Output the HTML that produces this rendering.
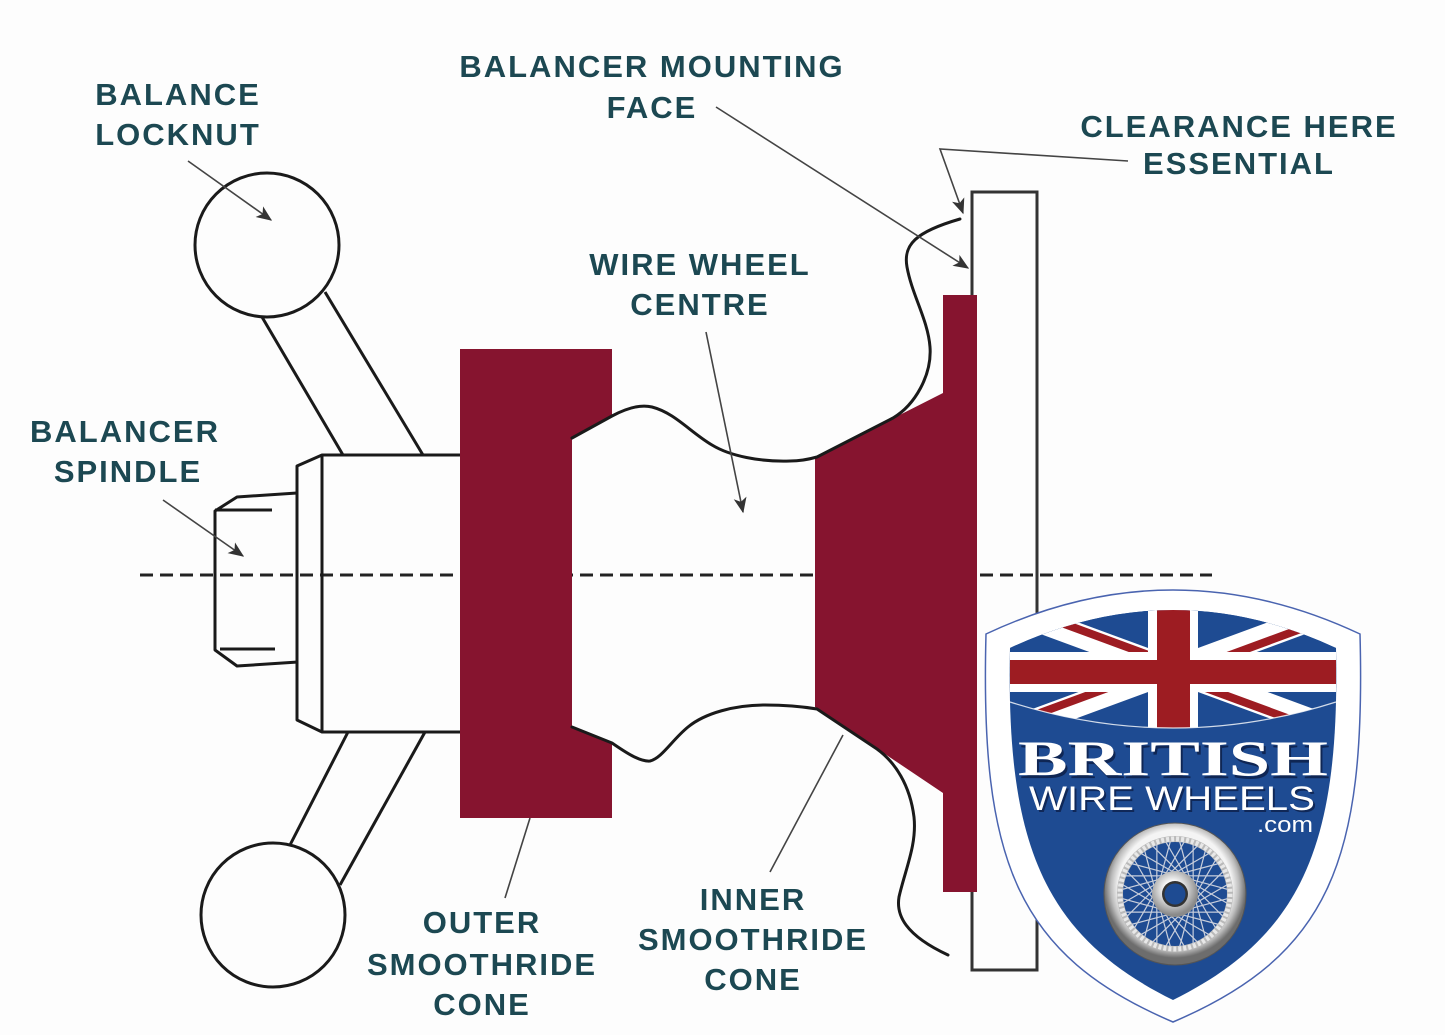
<!DOCTYPE html>
<html><head><meta charset="utf-8"><style>
html,body{margin:0;padding:0;background:#fdfdfd;}
svg{display:block;}
.lbl{font-family:"Liberation Sans",Arial,sans-serif;font-weight:bold;font-size:31px;letter-spacing:2px;fill:#1c4852;}
</style></head><body>
<svg width="1445" height="1035" viewBox="0 0 1445 1035" xmlns="http://www.w3.org/2000/svg">
<defs>
<marker id="ah" viewBox="0 0 12 10" refX="11" refY="5" markerWidth="17" markerHeight="13" markerUnits="userSpaceOnUse" orient="auto">
<path d="M0,0 L12,5 L0,10 L3,5 z" fill="#333"/>
</marker>
<clipPath id="flagclip"><path d="M1010,648 Q1173,572 1336,648 L1336,702 Q1173,754 1010,702 Z"/></clipPath>
<radialGradient id="tire" cx="50%" cy="45%" r="50%">
<stop offset="0.80" stop-color="#f4f4f4"/><stop offset="0.9" stop-color="#bdbdbd"/><stop offset="1" stop-color="#6d6d6d"/>
</radialGradient>
<radialGradient id="hubg" cx="45%" cy="40%" r="55%">
<stop offset="0.3" stop-color="#ffffff"/><stop offset="1" stop-color="#8a8a8a"/>
</radialGradient>
<g id="sp" stroke="#c9cfdc" stroke-width="1.2">
<line x1="21" y1="0" x2="40.6" y2="34.1"/>
<line x1="21" y1="0" x2="40.6" y2="-34.1"/>
</g>
</defs>
<rect width="1445" height="1035" fill="#fdfdfd"/>

<line x1="140" y1="575" x2="1212" y2="575" stroke="#222" stroke-width="3" stroke-dasharray="13 7"/>

<rect x="972" y="192" width="65" height="778" fill="none" stroke="#333" stroke-width="3"/>

<g fill="none" stroke="#1a1a1a" stroke-width="3" stroke-linejoin="round">
<path d="M460,455 L322,455 L297,466 L297,720 L322,732 L460,732"/>
<line x1="322" y1="455" x2="322" y2="732"/>
<path d="M297,493 L237,497 L215,511 L215,650 L237,666 L298,662"/>
<line x1="215" y1="510" x2="272" y2="510"/>
<line x1="220" y1="649" x2="275" y2="649"/>
<line x1="262" y1="317" x2="343" y2="455"/>
<line x1="325" y1="292" x2="423" y2="455"/>
<line x1="290" y1="845" x2="348" y2="732"/>
<line x1="340" y1="885" x2="425" y2="732"/>
<circle cx="267" cy="245" r="72"/>
<circle cx="273" cy="915" r="72"/>
</g>

<path d="M460,349 L612,349 L612,417 L572,438 L572,727 L612,743 L612,818 L460,818 Z" fill="#86142f"/>
<path d="M815,458 L943,393 L943,295 L977,295 L977,892 L943,892 L943,793 L815,707 Z" fill="#86142f"/>

<g fill="none" stroke="#1a1a1a" stroke-width="3" stroke-linejoin="round" stroke-linecap="round">
<path d="M572,438 L612,416 C625,409 640,404 652,407 C675,413 690,432 712,445 C730,456 760,462 790,461 C800,461 810,459 817,457 L893,418 C915,405 932,375 930,347 C928,320 912,295 907,267 C903,245 915,232 960,219"/>
<path d="M572,727 L612,743 C625,752 640,762 650,761 C662,758 672,740 688,727 C705,713 735,705 765,705 C790,705 805,707 817,709 L877,749 C895,762 910,785 914,817 C917,845 905,870 899,897 C896,915 905,935 948,955"/>
</g>

<g fill="none" stroke="#444" stroke-width="1.6">
<line x1="188" y1="161" x2="271" y2="220" marker-end="url(#ah)"/>
<line x1="163" y1="500" x2="243" y2="556" marker-end="url(#ah)"/>
<line x1="706" y1="332" x2="743" y2="512" marker-end="url(#ah)"/>
<line x1="716" y1="107" x2="968" y2="268" marker-end="url(#ah)"/>
<polyline points="1128,161 940,149 963,213" marker-end="url(#ah)"/>
<line x1="530" y1="818" x2="505" y2="898"/>
<line x1="843" y1="735" x2="770" y2="872"/>
</g>

<g class="lbl" text-anchor="middle">
<text x="178" y="105">BALANCE</text>
<text x="178" y="145">LOCKNUT</text>
<text x="125" y="442">BALANCER</text>
<text x="128" y="482">SPINDLE</text>
<text x="652" y="77">BALANCER MOUNTING</text>
<text x="652" y="118">FACE</text>
<text x="1239" y="137">CLEARANCE HERE</text>
<text x="1239" y="174">ESSENTIAL</text>
<text x="700" y="275">WIRE WHEEL</text>
<text x="700" y="315">CENTRE</text>
<text x="482" y="933">OUTER</text>
<text x="482" y="975">SMOOTHRIDE</text>
<text x="482" y="1015">CONE</text>
<text x="753" y="910">INNER</text>
<text x="753" y="950">SMOOTHRIDE</text>
<text x="753" y="990">CONE</text>
</g>

<path d="M986,634 Q1173,546 1360,634 C1366,860 1330,955 1173,1022 C1016,955 980,860 986,634 Z" fill="#ffffff" stroke="#4a64b0" stroke-width="1.5"/>
<path d="M1010,648 Q1173,572 1336,648 C1340,840 1305,935 1173,1000 C1041,935 1006,840 1010,648 Z" fill="#1e4b92"/>
<g clip-path="url(#flagclip)">
<rect x="1000" y="560" width="350" height="200" fill="#1e4b92"/>
<g stroke="#ffffff" stroke-width="24">
<line x1="1010" y1="610" x2="1336" y2="730"/>
<line x1="1010" y1="730" x2="1336" y2="610"/>
</g>
<g stroke="#9d1c22" stroke-width="8">
<line x1="1010" y1="604" x2="1173" y2="664"/>
<line x1="1173" y1="676" x2="1336" y2="736"/>
<line x1="1010" y1="724" x2="1173" y2="664"/>
<line x1="1173" y1="676" x2="1336" y2="616"/>
</g>
<rect x="1000" y="652" width="350" height="40" fill="#ffffff"/>
<rect x="1148" y="560" width="50" height="200" fill="#ffffff"/>
<rect x="1000" y="660" width="350" height="24" fill="#9d1c22"/>
<rect x="1157" y="560" width="33" height="200" fill="#9d1c22"/>
</g>
<path d="M1010,702 Q1173,754 1336,702" fill="none" stroke="#ffffff" stroke-width="1.2" opacity="0.8"/>

<g font-family="'Liberation Serif',serif" font-weight="bold" font-size="50" text-anchor="middle">
<text x="1175" y="778" fill="#0b1a40" opacity="0.75" textLength="310" lengthAdjust="spacingAndGlyphs">BRITISH</text>
<text x="1173" y="775" fill="#ffffff" textLength="310" lengthAdjust="spacingAndGlyphs">BRITISH</text>
</g>
<g font-family="'Liberation Sans',sans-serif" font-size="34" text-anchor="middle">
<text x="1174" y="812" fill="#0b1a40" opacity="0.7" textLength="286" lengthAdjust="spacingAndGlyphs">WIRE WHEELS</text>
<text x="1172" y="810" fill="#ffffff" textLength="286" lengthAdjust="spacingAndGlyphs">WIRE WHEELS</text>
</g>
<text x="1257" y="832" fill="#ffffff" font-family="'Liberation Sans',sans-serif" font-size="22" textLength="56" lengthAdjust="spacingAndGlyphs">.com</text>

<circle cx="1175" cy="894" r="71" fill="url(#tire)"/>
<circle cx="1175" cy="894" r="71" fill="none" stroke="#555" stroke-width="1"/>
<circle cx="1175" cy="894" r="58" fill="#b9b9b9"/>
<circle cx="1175" cy="894" r="55" fill="none" stroke="#e8e8e8" stroke-width="5" stroke-dasharray="3 2"/>
<circle cx="1175" cy="894" r="52" fill="#1e4b92"/>
<g transform="translate(1175,894)">
<use href="#sp"/>
<use href="#sp" transform="rotate(15)"/>
<use href="#sp" transform="rotate(30)"/>
<use href="#sp" transform="rotate(45)"/>
<use href="#sp" transform="rotate(60)"/>
<use href="#sp" transform="rotate(75)"/>
<use href="#sp" transform="rotate(90)"/>
<use href="#sp" transform="rotate(105)"/>
<use href="#sp" transform="rotate(120)"/>
<use href="#sp" transform="rotate(135)"/>
<use href="#sp" transform="rotate(150)"/>
<use href="#sp" transform="rotate(165)"/>
<use href="#sp" transform="rotate(180)"/>
<use href="#sp" transform="rotate(195)"/>
<use href="#sp" transform="rotate(210)"/>
<use href="#sp" transform="rotate(225)"/>
<use href="#sp" transform="rotate(240)"/>
<use href="#sp" transform="rotate(255)"/>
<use href="#sp" transform="rotate(270)"/>
<use href="#sp" transform="rotate(285)"/>
<use href="#sp" transform="rotate(300)"/>
<use href="#sp" transform="rotate(315)"/>
<use href="#sp" transform="rotate(330)"/>
<use href="#sp" transform="rotate(345)"/>
</g>
<circle cx="1175" cy="894" r="23" fill="url(#hubg)"/>
<circle cx="1175" cy="894" r="13" fill="#333"/>
<circle cx="1175" cy="894" r="10.5" fill="#1e4b92"/>
</svg>
</body></html>
